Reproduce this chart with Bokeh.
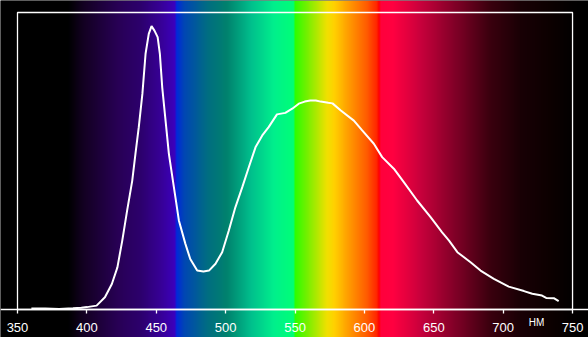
import numpy as np
from bokeh.plotting import figure
from bokeh.models import Range1d, LinearAxis, FixedTicker, BoxAnnotation, Label
from bokeh.embed import file_html
from bokeh.resources import INLINE

# Spectrum data (wavelength in nm, relative intensity)
wavelength = [360, 370, 380, 390, 396, 400, 407, 413, 418, 422, 425.5, 429, 432.7, 435,
              437.4, 440, 442.3, 444.6, 446.6, 448.7, 451, 452.6, 454.3, 456.7, 459.1,
              462.7, 466.3, 471, 474.5, 479.5, 484, 488, 492.7, 497.5, 502.3, 507, 512,
              516.7, 521.5, 526.4, 531, 537, 543, 548, 552.7, 557, 561, 565, 568.5, 574,
              577, 583, 592.4, 598.4, 606.8, 612.8, 621.2, 628.4, 638, 647.7, 656, 661,
              667, 676.5, 683.7, 693.3, 704, 715, 721, 728, 731, 736.5, 740]
intensity = [0.003, 0.003, 0.002, 0.004, 0.006, 0.008, 0.013, 0.041, 0.086, 0.142, 0.232,
             0.333, 0.434, 0.524, 0.614, 0.726, 0.861, 0.928, 0.954, 0.939, 0.917, 0.861,
             0.748, 0.636, 0.524, 0.412, 0.300, 0.221, 0.170, 0.131, 0.128, 0.131, 0.154,
             0.193, 0.266, 0.344, 0.412, 0.479, 0.546, 0.586, 0.614, 0.657, 0.662, 0.676,
             0.693, 0.700, 0.704, 0.704, 0.700, 0.696, 0.694, 0.670, 0.636, 0.603, 0.558,
             0.513, 0.474, 0.429, 0.367, 0.311, 0.260, 0.232, 0.193, 0.159, 0.131, 0.103,
             0.077, 0.062, 0.053, 0.047, 0.039, 0.038, 0.028]

tick_values = [350, 400, 450, 500, 550, 600, 650, 700, 750]
unit_label = "НМ"

# Background spectrum colour stops
grad_nm = [337, 386, 398, 422, 439, 453, 463.5, 464.6, 470, 487, 501, 518, 535, 549, 549.6,
           559, 573, 578, 588, 602, 609, 610.5, 612, 621, 641, 665, 690, 713, 738, 750, 762]
grad_r = [0, 0, 20, 40, 45, 55, 60, 0, 0, 0, 0, 0, 0, 0, 40,
          120, 240, 255, 255, 255, 255, 255, 255, 255, 200, 130, 60, 25, 10, 3, 0]
grad_g = [0, 0, 0, 0, 0, 0, 0, 40, 70, 110, 130, 190, 240, 255, 255,
          240, 225, 210, 160, 90, 40, 0, 0, 0, 0, 0, 0, 0, 0, 0, 0]
grad_b = [0, 0, 35, 85, 110, 150, 190, 220, 180, 130, 110, 140, 140, 120, 0,
          0, 0, 0, 0, 0, 0, 0, 60, 65, 60, 40, 15, 5, 0, 0, 0]

x0, x1 = 337.75, 761.5
y0, y1 = -0.0943, 1.0404

p = figure(width=588, height=337, output_backend="svg", toolbar_location=None,
           x_range=Range1d(x0, x1), y_range=Range1d(y0, y1),
           x_axis_location=None, y_axis_location=None, min_border=0)
p.background_fill_color = "black"
p.border_fill_color = "black"
p.outline_line_color = None
p.xgrid.visible = False
p.ygrid.visible = False

# Gradient image
N = 1200
xs = np.linspace(x0, x1, N)
img = np.empty((1, N), dtype=np.uint32)
view = img.view(dtype=np.uint8).reshape((1, N, 4))
view[0, :, 0] = np.interp(xs, grad_nm, grad_r).astype(np.uint8)
view[0, :, 1] = np.interp(xs, grad_nm, grad_g).astype(np.uint8)
view[0, :, 2] = np.interp(xs, grad_nm, grad_b).astype(np.uint8)
view[0, :, 3] = 255
p.image_rgba(image=[img], x=x0, y=y0, dw=x1 - x0, dh=y1 - y0)

# Frame
p.add_layout(BoxAnnotation(left=350, right=750, bottom=0, top=1, fill_alpha=0,
                           line_color="white", line_alpha=1.0, line_width=1.3))

# Spectrum line
p.line(wavelength, intensity, line_color="white", line_width=2)

# X axis drawn inside the frame
ax = LinearAxis(fixed_location=0)
ax.ticker = FixedTicker(ticks=tick_values)
ax.axis_line_color = "white"
ax.axis_line_width = 1.3
ax.major_tick_line_color = "white"
ax.major_tick_line_width = 1.3
ax.major_tick_out = 4
ax.major_tick_in = 0
ax.minor_tick_line_color = None
ax.major_label_text_color = "white"
ax.major_label_text_font = "Liberation Sans"
ax.major_label_text_font_size = "13px"
ax.major_label_standoff = 10
p.add_layout(ax, "below")

p.add_layout(Label(x=724, y=-0.044, text=unit_label, text_color="white",
                   text_font="Liberation Sans", text_font_size="10px",
                   text_align="center", text_baseline="middle"))

open("out.html", "w").write(file_html(p, INLINE))
